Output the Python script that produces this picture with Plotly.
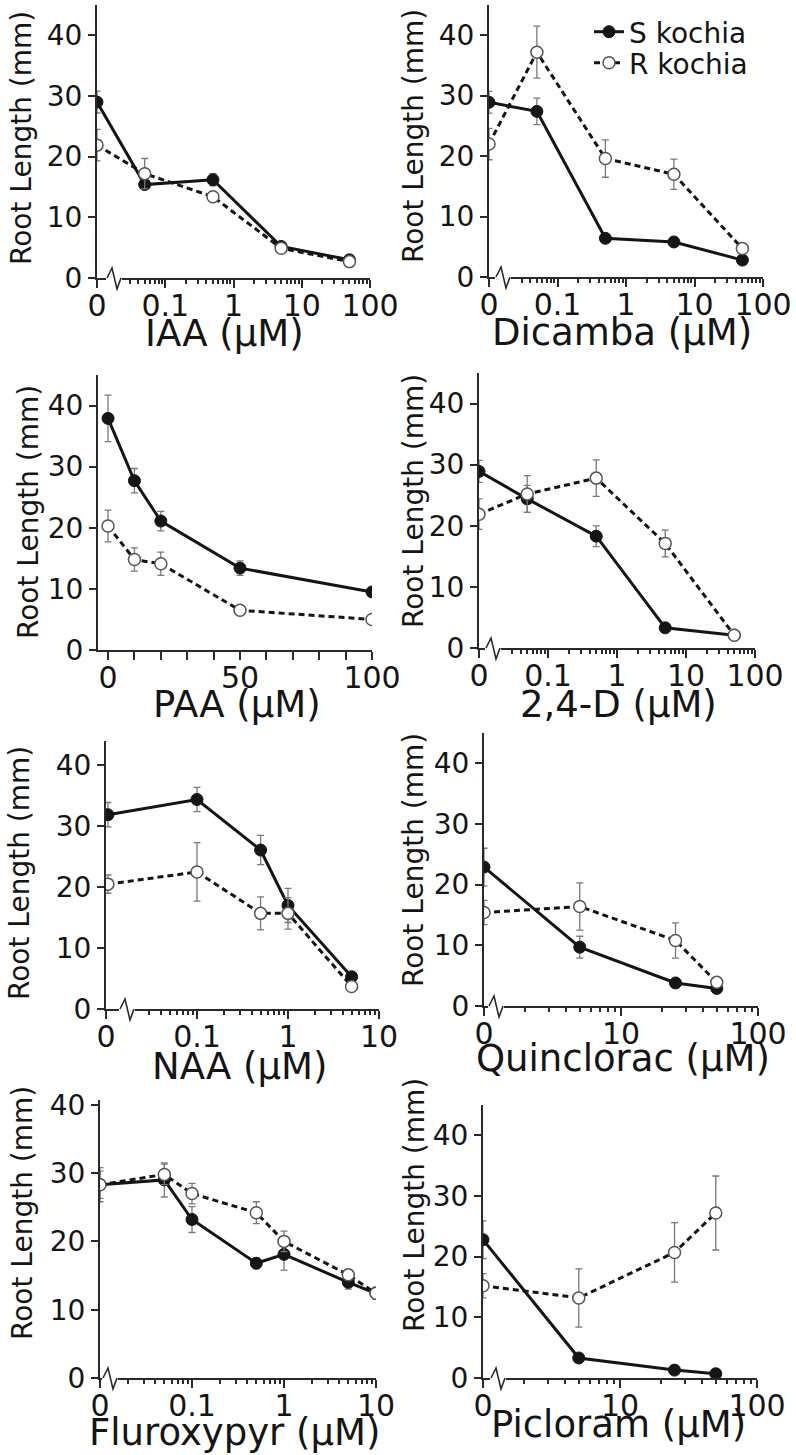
import plotly.graph_objects as go

FONT = "DejaVu Sans, Verdana, sans-serif"
INK = "#151515"
AX = "#2a2a2a"
ERR = "#7a7a7a"

# ---------------- data ----------------
iaa_x = [0, 0.05, 0.5, 5, 50]
iaa_s = [29.0, 15.4, 16.2, 5.2, 3.0]
iaa_s_err = [1.8, 0.8, 1.0, 0.5, 0.4]
iaa_r = [21.9, 17.2, 13.4, 4.9, 2.7]
iaa_r_err = [2.6, 2.5, 0.8, 0.4, 0.4]

dic_x = [0, 0.05, 0.5, 5, 50]
dic_s = [28.9, 27.4, 6.4, 5.8, 2.8]
dic_s_err = [1.8, 2.2, 0.3, 0.3, 0.3]
dic_r = [22.0, 37.2, 19.6, 17.0, 4.7]
dic_r_err = [2.6, 4.3, 3.1, 2.5, 0.3]

paa_x = [0, 10, 20, 50, 100]
paa_s = [37.9, 27.7, 21.1, 13.4, 9.5]
paa_s_err = [3.8, 2.0, 1.6, 1.2, 0.5]
paa_r = [20.3, 14.8, 14.1, 6.5, 5.0]
paa_r_err = [2.6, 1.9, 1.9, 0.3, 0.3]

d24_x = [0, 0.05, 0.5, 5, 50]
d24_s = [28.9, 24.4, 18.3, 3.3, 2.1]
d24_s_err = [1.8, 2.2, 1.7, 0.3, 0.3]
d24_r = [21.9, 25.2, 27.8, 17.1, 2.1]
d24_r_err = [2.5, 3.0, 3.0, 2.2, 0.2]

naa_x = [0, 0.1, 0.5, 1, 5]
naa_s = [31.9, 34.4, 26.1, 17.0, 5.3]
naa_s_err = [2.0, 2.0, 2.4, 2.8, 0.3]
naa_r = [20.5, 22.5, 15.7, 15.7, 3.7]
naa_r_err = [1.5, 4.8, 2.7, 2.6, 0.3]

qui_x = [0, 5, 25, 50]
qui_s = [22.9, 9.7, 3.8, 2.9]
qui_s_err = [3.1, 1.8, 0.3, 0.3]
qui_r = [15.4, 16.4, 10.8, 3.9]
qui_r_err = [2.0, 3.9, 2.9, 0.3]

flu_x = [0, 0.05, 0.1, 0.5, 1, 5, 10]
flu_s = [28.3, 29.0, 23.2, 16.8, 18.1, 14.0, 12.4]
flu_s_err = [2.5, 2.5, 1.9, 0.8, 2.3, 1.0, 0.8]
flu_r = [28.3, 29.8, 27.0, 24.2, 20.0, 15.1, 12.4]
flu_r_err = [2.0, 1.5, 1.5, 1.6, 1.5, 0.6, 0.9]

pic_x = [0, 5, 25, 50]
pic_s = [22.8, 3.3, 1.3, 0.7]
pic_s_err = [3.1, 0.3, 0.3, 0.3]
pic_r = [15.2, 13.2, 20.7, 27.2]
pic_r_err = [2.0, 4.8, 4.9, 6.1]

y_ticks = [0, 10, 20, 30, 40]
log_ticks_a = [0.01, 0.1, 1, 10, 100]
log_text_a = ["0", "0.1", "1", "10", "100"]
log_ticks_b = [0.01, 0.1, 1, 10]
log_text_b = ["0", "0.1", "1", "10"]
log_ticks_c = [1, 10, 100]
log_text_c = ["0", "10", "100"]
lin_ticks = [0, 10, 20, 30, 40, 50, 60, 70, 80, 90, 100]
lin_text = ["0", "", "", "", "", "50", "", "", "", "", "100"]

minor_a = [0.03, 0.04, 0.05, 0.06, 0.07, 0.08, 0.09,
           0.2, 0.3, 0.4, 0.5, 0.6, 0.7, 0.8, 0.9,
           2, 3, 4, 5, 6, 7, 8, 9,
           20, 30, 40, 50, 60, 70, 80, 90]
minor_b = [0.03, 0.04, 0.05, 0.06, 0.07, 0.08, 0.09,
           0.2, 0.3, 0.4, 0.5, 0.6, 0.7, 0.8, 0.9,
           2, 3, 4, 5, 6, 7, 8, 9]
minor_c = [2, 3, 4, 5, 6, 7, 8, 9, 20, 30, 40, 50, 60, 70, 80, 90]

# ---------------- panel layout (pixel boxes) ----------------
W, H = 796, 1455
panels = [
    dict(name="IAA (\u00b5M)", x=iaa_x, s=iaa_s, se=iaa_s_err, r=iaa_r, re=iaa_r_err,
         box=(97, 370, 5, 278), ymax=45, kind="log", zero=0.01, xr=[-2, 2],
         tv=log_ticks_a, tt=log_text_a, minor=minor_a, brk=10,
         xt=(225, 334), yt=(21, 138)),
    dict(name="Dicamba (\u00b5M)", x=dic_x, s=dic_s, se=dic_s_err, r=dic_r, re=dic_r_err,
         box=(489, 763, 5, 277), ymax=45, kind="log", zero=0.01, xr=[-2, 2],
         tv=log_ticks_a, tt=log_text_a, minor=minor_a, brk=7,
         xt=(622, 333), yt=(413, 136)),
    dict(name="PAA (\u00b5M)", x=paa_x, s=paa_s, se=paa_s_err, r=paa_r, re=paa_r_err,
         box=(98, 372, 375, 650), ymax=45, kind="linear", zero=0, xr=[-3.8, 100],
         tv=lin_ticks, tt=lin_text, minor=None, brk=None,
         xt=(237, 704), yt=(28, 512)),
    dict(name="2,4-D (\u00b5M)", x=d24_x, s=d24_s, se=d24_s_err, r=d24_r, re=d24_r_err,
         box=(479, 755, 373, 648), ymax=45, kind="log", zero=0.01, xr=[-2, 2],
         tv=log_ticks_a, tt=log_text_a, minor=minor_a, brk=7,
         xt=(618, 704), yt=(413, 501)),
    dict(name="NAA (\u00b5M)", x=naa_x, s=naa_s, se=naa_s_err, r=naa_r, re=naa_r_err,
         box=(106, 379, 741, 1009), ymax=44, kind="log", zero=0.0105, xr=[-2, 1],
         tv=log_ticks_b, tt=log_text_b, minor=minor_b, brk=14,
         xt=(239, 1066), yt=(19, 873)),
    dict(name="Quinclorac (\u00b5M)", x=qui_x, s=qui_s, se=qui_s_err, r=qui_r, re=qui_r_err,
         box=(484, 758, 733, 1006), ymax=45, kind="log", zero=1, xr=[0, 2],
         tv=log_ticks_c, tt=log_text_c, minor=minor_c, brk=5,
         xt=(623, 1058), yt=(413, 860)),
    dict(name="Fluroxypyr (\u00b5M)", x=flu_x, s=flu_s, se=flu_s_err, r=flu_r, re=flu_r_err,
         box=(100, 376, 1100, 1378), ymax=40.7, kind="log", zero=0.01, xr=[-2, 1],
         tv=log_ticks_b, tt=log_text_b, minor=[0.02] + minor_b, brk=3,
         xt=(234, 1432), yt=(22, 1213)),
    dict(name="Picloram (\u00b5M)", x=pic_x, s=pic_s, se=pic_s_err, r=pic_r, re=pic_r_err,
         box=(483, 757, 1105, 1378), ymax=45, kind="log", zero=1, xr=[0, 2],
         tv=log_ticks_c, tt=log_text_c, minor=minor_c, brk=8,
         xt=(618, 1424), yt=(414, 1205)),
]

fig = go.Figure()
shapes = []
annotations = []
layout_axes = {}

for i, p in enumerate(panels):
    k = "" if i == 0 else str(i + 1)
    xa, ya = "x" + k, "y" + k
    L, R, T, B = p["box"]
    xs = [p["zero"] if v == 0 else v for v in p["x"]]

    fig.add_trace(go.Scatter(
        x=xs, y=p["s"], xaxis=xa, yaxis=ya, mode="lines+markers",
        name="S kochia", legend="legend", showlegend=(i == 0),
        line=dict(color=INK, width=3),
        marker=dict(symbol="circle", size=12, color=INK, line=dict(color=INK, width=1)),
        error_y=dict(type="data", array=p["se"], color=ERR, thickness=1.3, width=3.5),
    ))
    fig.add_trace(go.Scatter(
        x=xs, y=p["r"], xaxis=xa, yaxis=ya, mode="lines+markers",
        name="R kochia", legend="legend2", showlegend=(i == 0),
        line=dict(color=INK, width=3, dash="6px,4px"),
        marker=dict(symbol="circle", size=12, color="white", line=dict(color="#555555", width=1.5)),
        error_y=dict(type="data", array=p["re"], color=ERR, thickness=1.3, width=3.5),
    ))

    xaxis = dict(
        domain=[L / W, R / W], anchor=ya, type=p["kind"], range=p["xr"], automargin=False,
        showline=True, linecolor=AX, linewidth=2, showgrid=False, zeroline=False,
        ticks="outside", ticklen=8, tickwidth=2, tickcolor=AX, ticklabelstandoff=-8,
        tickmode="array", tickvals=p["tv"], ticktext=p["tt"],
        tickfont=dict(family=FONT, size=30, color=INK), fixedrange=True,
    )
    if p["minor"] is not None:
        xaxis["minor"] = dict(tickmode="array", tickvals=p["minor"], ticks="outside",
                              ticklen=4, tickwidth=1.5, tickcolor=AX, showgrid=False)
    yaxis = dict(
        domain=[1 - B / H, 1 - T / H], anchor=xa, range=[0, p["ymax"]], automargin=False,
        showline=True, linecolor=AX, linewidth=2, showgrid=False, zeroline=False,
        ticks="outside", ticklen=7, tickwidth=2, tickcolor=AX,
        tickmode="array", tickvals=y_ticks,
        tickfont=dict(family=FONT, size=28, color=INK), fixedrange=True,
    )
    layout_axes["xaxis" + k] = xaxis
    layout_axes["yaxis" + k] = yaxis

    # axis break zigzag on log axes
    if p["brk"] is not None:
        b = p["brk"]
        shapes.append(dict(type="path", xref=xa + " domain", yref=ya + " domain",
                           xsizemode="pixel", ysizemode="pixel", xanchor=0, yanchor=0,
                           path=f"M{b - 1},0 L{b + 15},0",
                           line=dict(color="white", width=5), layer="above"))
        shapes.append(dict(type="path", xref=xa + " domain", yref=ya + " domain",
                           xsizemode="pixel", ysizemode="pixel", xanchor=0, yanchor=0,
                           path=f"M{b},0 L{b + 5},10 L{b + 10},-11 L{b + 14},0",
                           line=dict(color=AX, width=1.6), layer="above"))

    annotations.append(dict(text=p["name"], xref="paper", yref="paper",
                            x=p["xt"][0] / W, y=1 - p["xt"][1] / H,
                            xanchor="center", yanchor="middle", showarrow=False,
                            font=dict(family=FONT, size=37, color=INK)))
    annotations.append(dict(text="Root Length (mm)", xref="paper", yref="paper",
                            x=p["yt"][0] / W, y=1 - p["yt"][1] / H, textangle=-90,
                            xanchor="center", yanchor="middle", showarrow=False,
                            font=dict(family=FONT, size=28, color=INK)))

leg_common = dict(xanchor="left", yanchor="middle", bgcolor="rgba(0,0,0,0)",
                  borderwidth=0, font=dict(family=FONT, size=28, color=INK))
fig.update_layout(
    template="none",
    width=W, height=H, margin=dict(l=0, r=0, t=0, b=0, autoexpand=False),
    paper_bgcolor="white", plot_bgcolor="white",
    showlegend=True,
    legend=dict(x=589 / W, y=1 - 32 / H, **leg_common),
    legend2=dict(x=589 / W, y=1 - 63 / H, **leg_common),
    shapes=shapes, annotations=annotations,
    **layout_axes,
)

fig.write_html("out.html", config={"displayModeBar": False},
               post_script="document.body.style.margin='0px';document.body.style.overflow='hidden';")
